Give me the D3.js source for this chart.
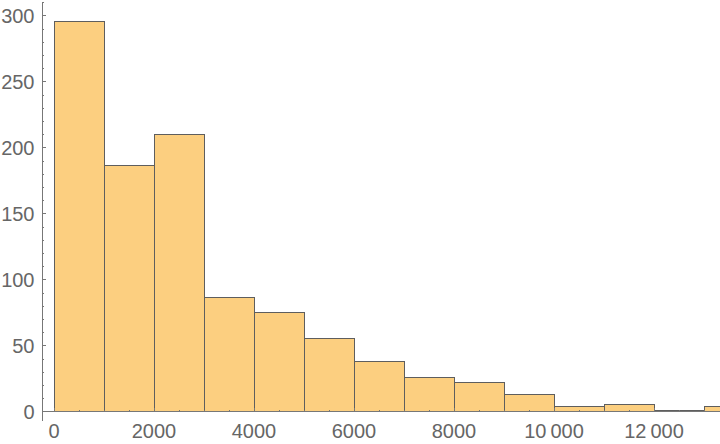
<!DOCTYPE html>
<html>
<head>
<meta charset="utf-8">
<script src="https://cdn.jsdelivr.net/npm/d3@7"></script>
<style>
  body { margin: 0; background: #fff; }
  text { font-family: "Liberation Sans", Arial, sans-serif; fill: #666; }
</style>
</head>
<body>
<div id="chart_container"></div>
<script>
// histogram bins (width 1000) and counts
var binStarts = [0, 1000, 2000, 3000, 4000, 5000, 6000, 7000, 8000, 9000, 10000, 11000, 12000, 13000];
var binWidth = 1000;
var counts = [296, 187, 210, 87, 75, 56, 38, 26, 22, 13, 4, 6, 1, 4];
var xTickValues = [0, 2000, 4000, 6000, 8000, 10000, 12000];
var xTickLabels = ["0", "2000", "4000", "6000", "8000", "10\u2009000", "12\u2009000"];
var yTickValues = [0, 50, 100, 150, 200, 250, 300];

draw_histogram();

function draw_histogram() {
    var width = 720, height = 444;

    var svg = d3.select("#chart_container")
        .append("svg")
        .attr("width", width)
        .attr("height", height);

    var x = d3.scaleLinear()
        .domain([-240, 13320])
        .range([42, 720]);
    var y = d3.scaleLinear()
        .domain([-7, 310])
        .range([421.2, 2.8]);

    var data = binStarts.map(function(d, i) {
        return {x0: d, x1: d + binWidth, count: counts[i]};
    });

    // bars
    svg.append("g")
        .selectAll("rect")
        .data(data)
        .enter()
        .append("rect")
        .attr("x", function(d) { return x(d.x0); })
        .attr("y", function(d) { return y(d.count); })
        .attr("width", function(d) { return x(d.x1) - x(d.x0); })
        .attr("height", function(d) { return y(0) - y(d.count); })
        .attr("fill", "#fccf80")
        .attr("stroke", "#5e5e5e")
        .attr("stroke-width", 1)
        .attr("shape-rendering", "crispEdges");

    var axes = svg.append("g")
        .attr("stroke", "#777")
        .attr("stroke-width", 1)
        .attr("shape-rendering", "crispEdges");

    // y axis line
    axes.append("line")
        .attr("x1", x(-240)).attr("x2", x(-240))
        .attr("y1", y(-7)).attr("y2", y(310));
    // x axis line
    axes.append("line")
        .attr("x1", x(-240)).attr("x2", x(13320))
        .attr("y1", y(0)).attr("y2", y(0));

    // y ticks (major every 50, minor every 10), pointing inward
    var yMinor = d3.range(0, 311, 10);
    axes.selectAll(".ytick")
        .data(yMinor)
        .enter()
        .append("line")
        .attr("class", "ytick")
        .attr("x1", x(-240))
        .attr("x2", function(d) { return x(-240) + (d % 50 == 0 ? 4 : 2); })
        .attr("y1", function(d) { return y(d); })
        .attr("y2", function(d) { return y(d); });

    // x ticks (major every 2000, minor every 500), pointing up
    var xMinor = d3.range(0, 13321, 500);
    axes.selectAll(".xtick")
        .data(xMinor)
        .enter()
        .append("line")
        .attr("class", "xtick")
        .attr("x1", function(d) { return x(d); })
        .attr("x2", function(d) { return x(d); })
        .attr("y1", y(0))
        .attr("y2", function(d) { return y(0) - (d % 2000 == 0 ? 4 : 2); });

    // y labels
    svg.append("g")
        .selectAll("text")
        .data(yTickValues)
        .enter()
        .append("text")
        .attr("x", 34.5)
        .attr("y", function(d) { return y(d); })
        .attr("dy", "0.36em")
        .attr("text-anchor", "end")
        .style("font-size", "20px")
        .text(function(d) { return d; });

    // x labels
    svg.append("g")
        .selectAll("text")
        .data(xTickValues)
        .enter()
        .append("text")
        .attr("x", function(d) { return x(d); })
        .attr("y", 438)
        .attr("text-anchor", "middle")
        .style("font-size", "20px")
        .text(function(d, i) { return xTickLabels[i]; });
}
</script>
</body>
</html>
